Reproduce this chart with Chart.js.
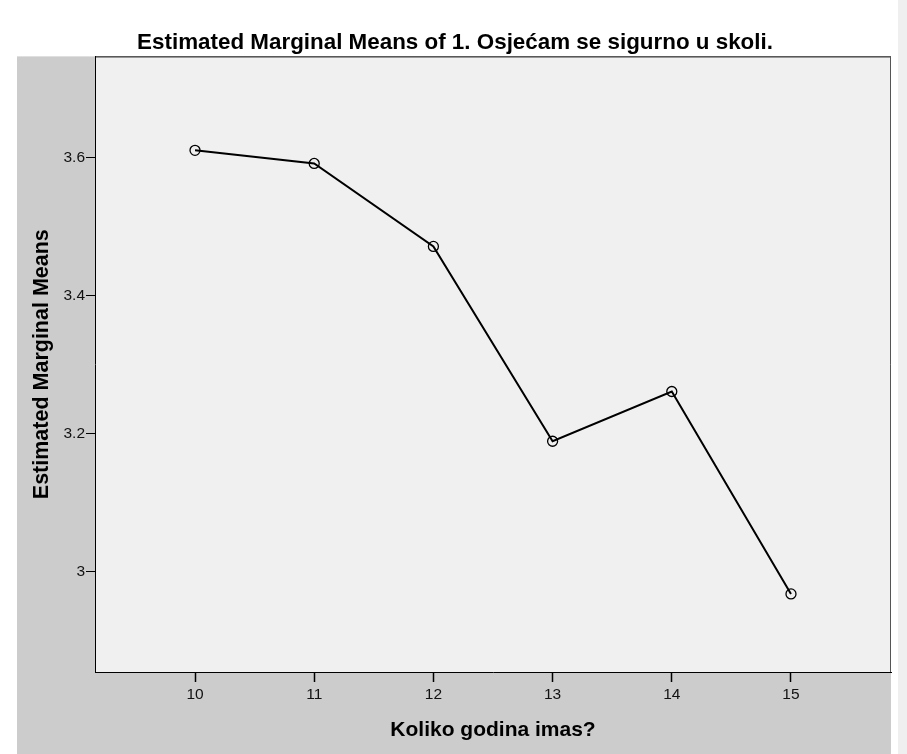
<!DOCTYPE html>
<html>
<head>
<meta charset="utf-8">
<script src="https://cdn.jsdelivr.net/npm/chart.js@4/dist/chart.umd.min.js"></script>
<style>
  html, body { margin: 0; padding: 0; background: #ffffff; }
  #wrap { width: 907px; height: 754px; position: relative; }
</style>
</head>
<body>
<div id="wrap"><canvas id="c" width="907" height="754"></canvas></div>
<script>
const chartTitle = 'Estimated Marginal Means of 1. Osjećam se sigurno u skoli.';
const xAxisTitle = 'Koliko godina imas?';
const yAxisTitle = 'Estimated Marginal Means';
const ageLabels = [10, 11, 12, 13, 14, 15];
const meanValues = [3.610, 3.591, 3.471, 3.189, 3.261, 2.968];
const yTickValues = [3.0, 3.2, 3.4, 3.6];
const yTickLabels = ['3', '3.2', '3.4', '3.6'];

const points = ageLabels.map((a, i) => ({ x: a, y: meanValues[i] }));

const bgPlugin = {
  id: 'bgPlugin',
  beforeDraw(chart) {
    const ctx = chart.ctx;
    const ca = chart.chartArea;
    ctx.save();
    ctx.fillStyle = '#ffffff';
    ctx.fillRect(0, 0, chart.width, chart.height);
    ctx.fillStyle = '#efefef';
    ctx.fillRect(898, 0, chart.width - 898, chart.height);
    ctx.fillStyle = '#cccccc';
    ctx.fillRect(17, ca.top, ca.right - 17, chart.height - ca.top);
    ctx.fillStyle = '#f0f0f0';
    ctx.fillRect(ca.left, ca.top, ca.right - ca.left, ca.bottom - ca.top);
    ctx.restore();
  },
  afterDraw(chart) {
    const ctx = chart.ctx;
    const ca = chart.chartArea;
    ctx.save();
    ctx.lineWidth = 1;
    ctx.strokeStyle = '#000000';
    ctx.beginPath();
    ctx.moveTo(ca.left, ca.top + 0.5);
    ctx.lineTo(ca.right, ca.top + 0.5);
    ctx.stroke();
    ctx.strokeStyle = '#555555';
    ctx.beginPath();
    ctx.moveTo(ca.right - 0.5, ca.top);
    ctx.lineTo(ca.right - 0.5, ca.bottom);
    ctx.stroke();
    ctx.restore();
  }
};

new Chart(document.getElementById('c'), {
  type: 'line',
  data: {
    datasets: [{
      data: points,
      borderColor: '#000000',
      borderWidth: 2,
      pointRadius: 5,
      pointHoverRadius: 5,
      pointBorderWidth: 1.3,
      pointBorderColor: '#000000',
      pointBackgroundColor: 'rgba(0,0,0,0)',
      tension: 0,
      fill: false
    }]
  },
  options: {
    responsive: false,
    animation: false,
    events: [],
    layout: { padding: { left: 19, right: 16, top: 0, bottom: 0 } },
    plugins: {
      legend: { display: false },
      tooltip: { enabled: false },
      title: {
        display: true,
        text: chartTitle,
        color: '#000000',
        font: { family: 'Liberation Sans, Arial, sans-serif', size: 22.4, weight: 'bold' },
        padding: { top: 29, bottom: 0.5 }
      }
    },
    scales: {
      x: {
        type: 'linear',
        min: 9.161,
        max: 15.839,
        afterFit(scale) { scale.height = 82; },
        afterBuildTicks(scale) { scale.ticks = ageLabels.map(v => ({ value: v })); },
        border: { display: true, color: '#000000', width: 1 },
        grid: { display: true, drawOnChartArea: false, drawTicks: true, tickLength: 10, tickColor: '#000000', tickWidth: 1.5 },
        ticks: {
          color: '#111111',
          font: { family: 'Liberation Sans, Arial, sans-serif', size: 15.5 },
          padding: 3,
          maxRotation: 0,
          callback: (v) => String(v)
        },
        title: {
          display: true,
          text: xAxisTitle,
          color: '#000000',
          font: { family: 'Liberation Sans, Arial, sans-serif', size: 21, weight: 'bold' },
          padding: { top: 0, bottom: 11.5 }
        }
      },
      y: {
        type: 'linear',
        min: 2.855,
        max: 3.746,
        afterFit(scale) { scale.width = 76; },
        afterBuildTicks(scale) { scale.ticks = yTickValues.map(v => ({ value: v })); },
        border: { display: true, color: '#000000', width: 1 },
        grid: { display: true, drawOnChartArea: false, drawTicks: true, tickLength: 9, tickColor: '#000000', tickWidth: 1 },
        ticks: {
          color: '#111111',
          font: { family: 'Liberation Sans, Arial, sans-serif', size: 15.5 },
          padding: 1,
          callback: (v) => {
            const i = yTickValues.findIndex(t => Math.abs(t - v) < 1e-9);
            return i >= 0 ? yTickLabels[i] : '';
          }
        },
        title: {
          display: true,
          text: yAxisTitle,
          color: '#000000',
          font: { family: 'Liberation Sans, Arial, sans-serif', size: 21.5, weight: 'bold' },
          padding: { top: 10, bottom: 0 }
        }
      }
    }
  },
  plugins: [bgPlugin]
});
</script>
</body>
</html>
